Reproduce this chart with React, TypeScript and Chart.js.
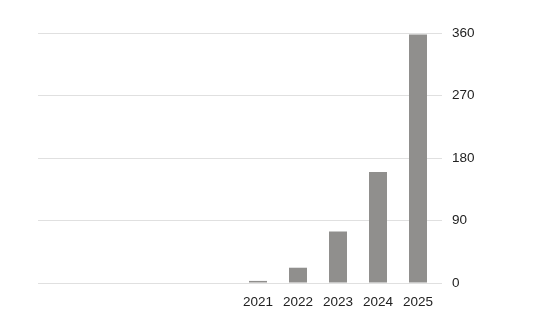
import React, { useEffect, useRef } from "react";
import { Chart, registerables } from "chart.js";

Chart.register(...registerables);

const categories = ["", "", "", "", "", "2021", "2022", "2023", "2024", "2025"];
const values = [null, null, null, null, null, 3, 22, 74, 160, 358];
const yTicks = [0, 90, 180, 270, 360];

export default function App() {
  const ref = useRef<HTMLCanvasElement | null>(null);
  useEffect(() => {
    if (!ref.current) return;
    const chart = new Chart(ref.current, {
      type: "bar",
      data: {
        labels: categories,
        datasets: [
          {
            data: values as any,
            backgroundColor: "#908f8d",
            barPercentage: 0.45,
            categoryPercentage: 1,
          },
        ],
      },
      options: {
        animation: false,
        responsive: false,
        maintainAspectRatio: false,
        layout: { padding: { left: 38, right: 48, top: 33, bottom: 20 } },
        plugins: { legend: { display: false }, tooltip: { enabled: false } },
        scales: {
          x: {
            grid: { display: false, drawTicks: false },
            border: { display: false },
            ticks: {
              color: "#222",
              font: { family: "Arial, 'Liberation Sans'", size: 13.5 },
              padding: 11,
              autoSkip: false,
              maxRotation: 0,
            },
            afterFit: (s: any) => {
              s.height = 30;
            },
          },
          y: {
            position: "right",
            min: 0,
            max: 360,
            afterBuildTicks: (s: any) => {
              s.ticks = yTicks.map((v) => ({ value: v }));
            },
            grid: { color: "#e0e0e0", tickLength: 4, drawTicks: true },
            border: { display: false },
            ticks: {
              color: "#222",
              font: { family: "Arial, 'Liberation Sans'", size: 13.5 },
              padding: 10,
            },
            afterFit: (s: any) => {
              s.width = 60;
            },
          },
        },
      },
    });
    return () => chart.destroy();
  }, []);
  return (
    <div style={{ position: "fixed", left: 0, top: 0, width: 546, height: 333, background: "#fff" }}>
      <canvas ref={ref} width={546} height={333} style={{ width: 546, height: 333 }} />
    </div>
  );
}
